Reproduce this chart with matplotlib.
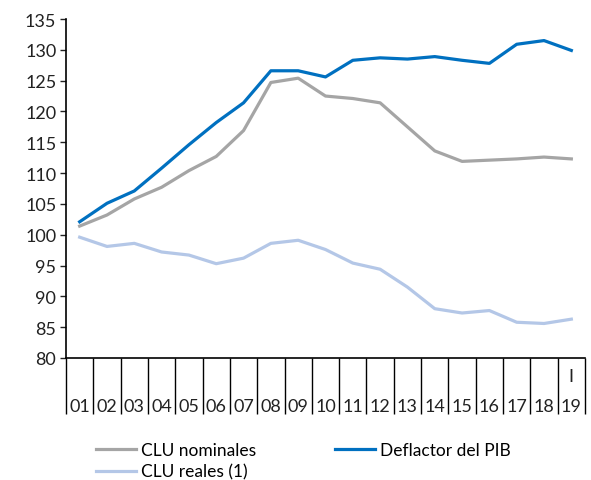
import matplotlib.pyplot as plt
import matplotlib.transforms as mtransforms
import numpy as np

plt.rcParams['font.family'] = ['Lato', 'DejaVu Sans']

# datos (índices)
years = ['01', '02', '03', '04', '05', '06', '07', '08', '09', '10',
         '11', '12', '13', '14', '15', '16', '17', '18', '19']
quarters = [''] * 18 + ['I']
clu_nominales = [101.4, 103.2, 105.8, 107.7, 110.4, 112.7, 116.9, 124.7, 125.4, 122.5,
                 122.1, 121.4, 117.5, 113.6, 111.9, 112.1, 112.3, 112.6, 112.3]
deflactor_pib = [102.1, 105.1, 107.1, 110.8, 114.6, 118.2, 121.4, 126.6, 126.6, 125.6,
                 128.3, 128.7, 128.5, 128.9, 128.3, 127.8, 130.9, 131.5, 129.9]
clu_reales = [99.6, 98.1, 98.6, 97.2, 96.7, 95.3, 96.2, 98.6, 99.1, 97.6,
              95.4, 94.4, 91.5, 88.0, 87.3, 87.7, 85.8, 85.6, 86.3]

fig = plt.figure(figsize=(5.91, 4.81), dpi=100)
ax = fig.add_axes([66 / 591, 1 - 359 / 481, (585 - 66) / 591, (359 - 20) / 481])

x = np.arange(len(years))
l1, = ax.plot(x, clu_nominales, color='#a5a5a5', lw=2.3, label='CLU nominales')
l2, = ax.plot(x, deflactor_pib, color='#0070c0', lw=2.3, label='Deflactor del PIB')
l3, = ax.plot(x, clu_reales, color='#b4c7e7', lw=2.3, label='CLU reales (1)')

ax.set_xlim(-0.5, len(years) - 0.5)
ax.set_ylim(80, 135)
ax.set_yticks(range(80, 136, 5))
ax.tick_params(axis='y', length=4, width=1, labelsize=13, colors='#222222', pad=3)

ax.set_xticks(x)
ax.set_xticklabels(years)
ax.set_xticks(np.arange(-0.5, len(years)), minor=True)
ax.tick_params(axis='x', which='major', length=0, labelsize=13, pad=29, colors='#222222')
ax.tick_params(axis='x', which='minor', length=40, width=1, direction='out')

trans = mtransforms.blended_transform_factory(ax.transData, ax.transAxes)
for i, q in enumerate(quarters):
    if q:
        ax.text(i, -0.052, q, transform=trans, ha='center', va='center',
                fontsize=13, color='#222222')

for s in ['top', 'right']:
    ax.spines[s].set_visible(False)
for s in ['left', 'bottom']:
    ax.spines[s].set_linewidth(1.2)

fig.legend(handles=[l1, l3, l2], loc='upper left', bbox_to_anchor=(0.163, 0.078),
           ncol=2, frameon=False, fontsize=12.5, handlelength=2.3, handletextpad=0.3,
           columnspacing=4.5, labelspacing=0.3, borderpad=0, borderaxespad=0)

fig.savefig('out.png', dpi=100)
